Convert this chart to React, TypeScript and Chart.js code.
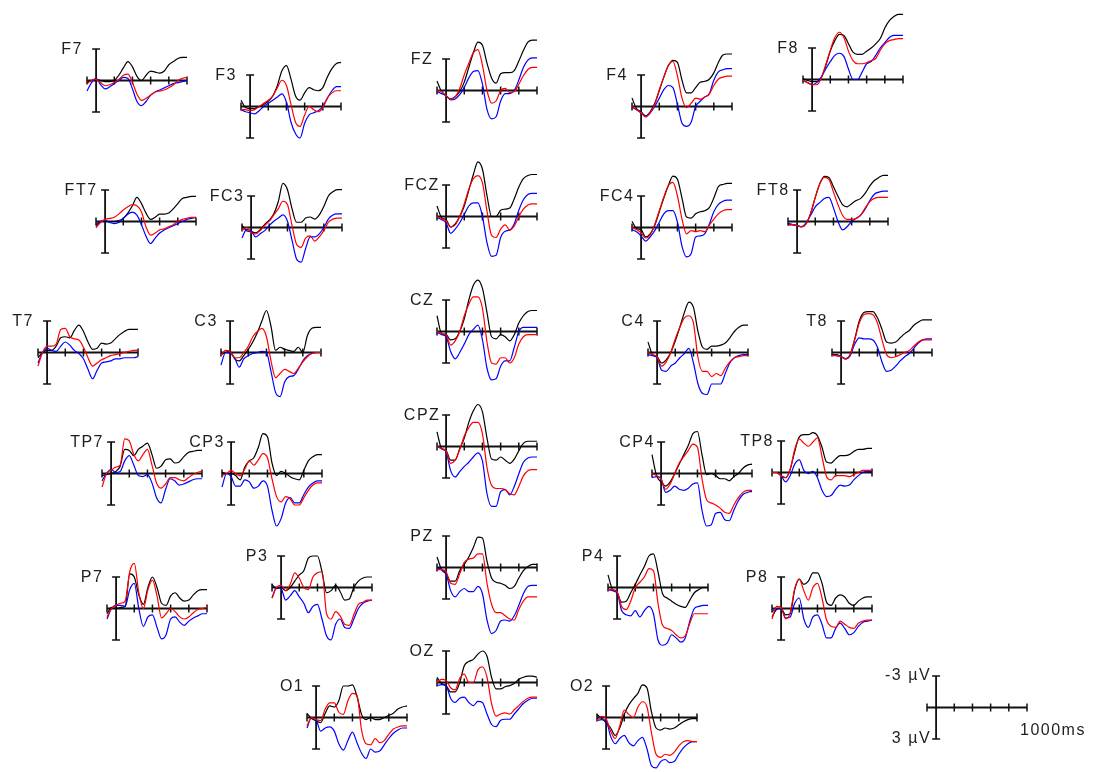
import React, { useEffect, useRef } from 'react';
import { Chart, registerables } from 'chart.js';

Chart.register(...registerables);

// ---- time base (ms) and axis ticks ----
const TIMES = [-100, -50, 0, 50, 100, 150, 200, 250, 300, 350, 400, 450, 500, 550, 600, 650, 700, 750, 800, 850, 900, 950, 1000];
const TICKS_MS = [200, 400, 600, 800];
const X_MIN = -100;
const X_MAX = 1000;
const Y_LIM = 3; // ±3 µV, negative up
const LEGEND_TOP = '-3 µV';
const LEGEND_BOTTOM = '3 µV';
const LEGEND_TIME = '1000ms';

// ---- amplitudes (µV) per electrode: _K black, _R red, _B blue ----
const F7_K = [0.2, 0, -0.1, 0, 0.1, 0.1, 0, -0.5, -1.2, -1.8, -1.3, -0.4, 0, -0.5, -0.9, -0.8, -0.7, -0.9, -1.5, -1.8, -2.1, -2.2, -2.2];
const F7_R = [0.3, 0, -0.1, 0.2, 0.5, 0.4, 0.2, -0.1, -0.5, -0.6, 0.2, 1.3, 1.9, 1.7, 1.4, 1.1, 1.0, 0.9, 0.7, 0.4, 0.0, -0.2, -0.3];
const F7_B = [1.0, 0.2, -0.2, 0.4, 0.8, 0.6, 0.3, 0, -0.3, -0.2, 0.8, 2.0, 2.4, 2.0, 1.4, 1.1, 0.9, 0.7, 0.5, 0.3, 0.2, 0.1, 0.0];

const F3_K = [-0.6, 0.1, 0.2, 0.2, 0, -0.2, -0.5, -1.0, -2.0, -3.4, -3.9, -2.6, -1.0, -0.6, -1.3, -1.8, -1.6, -1.5, -1.8, -2.8, -3.6, -4.1, -4.2];
const F3_R = [0.3, 0.3, 0.4, 0.3, 0, -0.3, -0.6, -1.0, -1.8, -2.5, -2.0, -0.2, 1.5, 1.9, 0.8, 0, 0.3, 0.5, 0.1, -0.8, -1.3, -1.5, -1.5];
const F3_B = [0.3, 0.5, 0.6, 0.7, 0.4, 0, -0.3, -0.6, -0.9, -1.2, -0.4, 1.5, 2.6, 3.0, 1.6, 0.8, 0.6, 0.4, 0, -0.8, -1.5, -1.9, -1.9];

const FZ_K = [-0.9, 0.1, 0.5, 0.8, 0.6, 0.1, -0.8, -2.2, -3.6, -4.6, -4.3, -2.6, -1.2, -0.7, -1.6, -1.7, -1.7, -1.9, -2.8, -3.8, -4.6, -4.8, -4.8];
const FZ_R = [0.0, 0.1, 0.5, 0.8, 0.6, -0.2, -1.5, -2.6, -3.6, -3.9, -2.4, 0.0, 1.2, 1.0, 0.0, -0.2, 0.2, 0.1, -0.6, -1.4, -2.0, -2.2, -2.2];
const FZ_B = [0.1, 0.3, 0.5, 0.9, 0.8, 0.4, -0.3, -1.2, -1.8, -1.9, -0.6, 1.8, 2.7, 2.5, 1.0, 0.3, 0.3, 0.0, -1.0, -2.2, -2.9, -3.1, -3.1];

const F4_K = [-0.8, 0.2, 0.5, 0.9, 0.5, -0.3, -1.5, -2.8, -3.9, -4.4, -4.2, -2.5, -1.3, -1.3, -1.8, -2.3, -2.4, -2.6, -3.2, -4.2, -4.9, -5.0, -5.0];
const F4_R = [0.0, 0.3, 0.6, 1.0, 0.6, -0.2, -1.6, -2.8, -3.9, -4.3, -2.9, -0.8, 0.1, -0.3, -0.8, -0.7, -0.9, -1.2, -2.0, -2.6, -2.8, -2.9, -2.9];
const F4_B = [0.1, 0.3, 0.6, 0.9, 0.6, 0.0, -0.8, -1.6, -2.0, -1.8, -0.2, 1.6, 1.9, 1.5, 0.0, -0.5, -0.9, -1.2, -2.5, -3.3, -3.5, -3.6, -3.6];

const F8_K = [-0.1, 0.1, 0.2, 0.2, -0.2, -1.3, -2.7, -3.7, -4.3, -4.2, -3.4, -2.6, -2.4, -2.4, -2.7, -3.0, -3.4, -3.9, -4.9, -5.6, -6.0, -6.2, -6.2];
const F8_R = [0.1, 0.3, 0.5, 0.5, -0.1, -1.4, -2.8, -4.0, -4.5, -4.0, -2.7, -1.8, -1.5, -1.5, -1.6, -1.8, -2.0, -2.8, -3.4, -3.7, -3.8, -3.9, -3.9];
const F8_B = [0.1, 0.3, 0.5, 0.3, -0.2, -1.0, -1.7, -2.3, -2.5, -2.2, -1.0, 0.0, 0.0, -0.7, -1.5, -1.7, -2.3, -3.0, -3.5, -4.0, -4.2, -4.2, -4.2];

const FT7_K = [0.3, 0.0, 0.0, 0.0, 0.0, -0.1, -0.3, -0.8, -1.5, -2.3, -1.7, -0.8, -0.2, -0.4, -0.7, -0.7, -0.8, -1.2, -1.7, -2.2, -2.3, -2.4, -2.4];
const FT7_R = [0.6, 0.1, -0.2, -0.3, -0.4, -0.7, -1.1, -1.4, -1.6, -1.5, -0.9, 0.5, 1.3, 1.1, 0.8, 0.7, 0.5, 0.3, 0.0, -0.2, -0.3, -0.4, -0.4];
const FT7_B = [0.5, 0.0, -0.1, 0.1, 0.2, 0.1, -0.3, -0.7, -0.9, -0.6, 0.3, 1.4, 2.1, 1.6, 1.1, 0.8, 0.6, 0.4, 0.2, 0.0, -0.2, -0.3, -0.4];

const FC3_K = [-0.2, 0.3, 0.4, 0.5, 0.2, -0.3, -0.7, -1.3, -2.5, -4.2, -3.6, -1.8, -0.5, -0.5, -0.9, -1.0, -0.8, -1.2, -2.0, -3.0, -3.4, -3.6, -3.6];
const FC3_R = [0.3, 0.0, 0.5, 0.6, 0.3, -0.2, -0.6, -1.2, -1.8, -2.5, -2.2, -0.2, 1.6, 1.9, 1.0, 0.8, 1.3, 0.9, 0.3, -0.5, -0.8, -0.9, -0.9];
const FC3_B = [1.0, 0.2, 0.3, 0.9, 0.6, 0.3, -0.2, -0.6, -0.9, -1.2, -0.6, 1.2, 3.0, 3.3, 2.0, 0.9, 0.9, 0.6, 0.0, -0.8, -1.2, -1.3, -1.3];

const FCZ_K = [-1.0, 0.1, 0.3, 1.0, 0.7, 0.0, -1.0, -2.5, -4.0, -5.2, -4.5, -2.0, 0.0, 0.0, -0.6, -0.7, -0.8, -1.7, -2.8, -3.6, -3.9, -4.0, -4.0];
const FCZ_R = [0.0, 0.2, 0.4, 1.0, 0.8, 0.0, -1.2, -2.6, -3.6, -3.9, -3.2, -0.5, 1.8, 2.0, 1.2, 0.8, 1.3, 0.9, 0.0, -0.7, -1.1, -1.2, -1.2];
const FCZ_B = [0.1, 0.3, 0.6, 1.6, 1.2, 0.6, -0.2, -1.0, -1.3, -1.3, 0.0, 2.5, 3.8, 3.7, 2.0, 1.4, 1.3, 0.7, -0.6, -1.6, -2.1, -2.2, -2.2];

const FC4_K = [-0.6, 0.1, 0.2, 0.9, 0.6, -0.2, -1.5, -2.8, -4.0, -4.9, -4.6, -2.8, -1.0, -0.9, -1.3, -1.5, -1.6, -1.9, -2.8, -3.9, -4.1, -4.2, -4.2];
const FC4_R = [0.0, 0.2, 0.5, 1.0, 0.7, -0.3, -1.6, -2.9, -4.0, -4.3, -3.0, -0.8, 0.6, 0.3, 0.4, 0.3, 0.4, -0.2, -0.8, -1.3, -1.6, -1.7, -1.7];
const FC4_B = [0.2, 0.4, 0.8, 1.3, 0.9, 0.3, -0.5, -1.3, -1.6, -1.6, -0.5, 1.8, 2.8, 2.5, 0.9, 0.8, 0.6, -0.3, -1.5, -2.2, -2.5, -2.6, -2.6];

const FT8_K = [0.2, 0.3, 0.4, 0.5, 0.2, -0.8, -2.3, -3.6, -4.3, -4.2, -3.3, -2.4, -1.6, -1.4, -1.7, -2.0, -2.2, -2.7, -3.4, -3.9, -4.2, -4.4, -4.4];
const FT8_R = [0.4, 0.3, 0.4, 0.5, 0.2, -0.8, -2.3, -3.6, -4.2, -4.0, -2.8, -1.6, -0.6, -0.2, -0.2, -0.3, -0.6, -1.3, -1.9, -2.2, -2.3, -2.3, -2.3];
const FT8_B = [0.2, 0.3, 0.4, 0.5, 0.1, -0.6, -1.4, -1.8, -2.2, -2.3, -1.3, 0.0, 0.8, 0.5, 0.0, -0.3, -0.6, -1.2, -2.0, -2.6, -2.8, -2.9, -2.9];

const T7_K = [0.5, 0.0, -0.2, -0.2, -0.6, -1.4, -1.5, -1.4, -2.1, -2.6, -2.0, -1.0, -0.3, -0.4, -0.9, -0.8, -0.9, -1.3, -1.7, -2.0, -2.2, -2.2, -2.2];
const T7_R = [1.3, 0.0, -0.6, -0.6, -0.8, -2.2, -2.3, -1.5, -1.3, -1.2, -0.5, 0.5, 1.3, 1.0, 0.7, 0.5, 0.3, 0.2, 0.1, 0.0, -0.1, -0.2, -0.2];
const T7_B = [1.0, 0.0, -0.4, -0.2, -0.1, -0.6, -1.0, -0.7, -0.2, 0.1, 0.6, 1.6, 2.5, 1.7, 1.0, 0.9, 0.8, 0.6, 0.6, 0.5, 0.5, 0.5, 0.4];

const C3_K = [0.2, 0.0, -0.1, 0.6, 0.8, 0.3, -0.3, -1.0, -1.9, -3.0, -4.0, -2.5, -0.2, -0.5, -0.3, -0.2, -0.1, -0.5, 0.0, -1.6, -2.3, -2.4, -2.4];
const C3_R = [0.3, -0.2, -0.1, 0.5, 0.5, 0.0, -0.6, -1.5, -2.0, -2.3, -1.5, 0.8, 2.4, 2.0, 1.6, 1.8, 2.0, 1.5, 0.9, 0.4, 0.1, 0.0, 0.0];
const C3_B = [1.2, 0.0, 0.1, 0.5, 1.4, 0.6, 0.3, 0.1, 0.0, -0.1, 0.0, 1.8, 3.8, 4.2, 2.8, 2.3, 2.2, 1.6, 0.8, 0.3, 0.1, 0.0, 0.0];

const CZ_K = [-1.5, 0.2, 0.3, 0.8, 0.7, 0.0, -1.2, -3.0, -4.4, -4.9, -4.1, -1.8, 0.5, 0.7, 0.3, 0.5, 0.9, 0.3, -0.8, -1.5, -1.9, -2.0, -2.0];
const CZ_R = [0.0, 0.2, 0.3, 1.3, 0.9, 0.0, -1.5, -2.6, -3.3, -3.3, -2.2, 1.0, 3.0, 3.1, 2.5, 2.5, 3.0, 2.5, 1.2, 0.5, 0.3, 0.3, 0.3];
const CZ_B = [0.1, 0.3, 0.5, 1.9, 2.6, 2.0, 1.2, 0.3, -0.2, -0.6, 0.8, 3.5, 4.6, 4.5, 3.3, 2.8, 2.8, 1.5, 0.0, -0.4, -0.4, -0.4, -0.4];

const C4_K = [-1.0, 0.2, 0.4, 1.0, 0.7, 0.0, -1.1, -2.4, -3.8, -4.8, -4.3, -2.0, -0.5, -0.3, -0.6, -0.6, -0.7, -0.9, -1.4, -2.0, -2.4, -2.6, -2.6];
const C4_R = [0.0, 0.2, 0.4, 1.3, 0.9, 0.0, -1.3, -2.4, -3.3, -3.5, -2.8, 0.5, 1.8, 1.8, 2.3, 2.0, 2.2, 1.5, 0.9, 0.5, 0.4, 0.3, 0.3];
const C4_B = [0.2, 0.3, 0.5, 1.7, 1.8, 1.3, 1.0, 0.5, 0.1, -0.4, 1.0, 3.0, 3.9, 4.0, 3.0, 3.0, 3.0, 2.0, 1.0, 0.5, 0.3, 0.2, 0.2];

const T8_K = [0.2, 0.2, 0.4, 0.6, 0.2, -1.3, -3.0, -3.8, -3.9, -3.9, -3.3, -2.2, -1.0, -0.9, -1.0, -1.4, -1.8, -2.1, -2.6, -2.9, -3.1, -3.1, -3.1];
const T8_R = [0.3, 0.3, 0.4, 0.6, 0.2, -1.2, -2.8, -3.6, -3.7, -3.6, -2.8, -1.2, 0.2, 0.5, 0.4, 0.2, 0.0, -0.2, -0.6, -1.0, -1.2, -1.2, -1.2];
const T8_B = [0.2, 0.3, 0.4, 0.6, 0.3, -0.8, -1.4, -1.3, -1.3, -1.2, -0.5, 0.9, 1.8, 1.7, 1.3, 0.8, 0.4, 0.1, -0.4, -0.9, -1.2, -1.3, -1.3];

const TP7_K = [0.2, 0.1, 0.0, -0.2, -0.7, -2.3, -2.2, -1.7, -2.3, -2.6, -2.9, -1.8, -0.5, -0.7, -1.3, -1.4, -1.0, -1.1, -1.6, -2.0, -2.1, -2.2, -2.2];
const TP7_R = [1.3, 0.0, -0.3, -0.6, -0.8, -3.3, -3.1, -1.8, -1.2, -1.8, -2.3, -0.8, 0.9, 1.4, 1.0, 0.4, 0.4, 0.6, 0.7, 0.4, 0.1, -0.1, -0.2];
const TP7_B = [0.7, 0.0, -0.4, -0.1, -0.2, -1.2, -1.7, -0.8, 0.2, 0.3, 0.1, 0.9, 2.3, 2.8, 1.5, 0.5, 0.7, 1.1, 1.0, 0.8, 0.6, 0.5, 0.5];

const CP3_K = [-0.1, 0.0, 0.0, 0.2, 0.6, -0.6, -1.2, -1.5, -2.5, -3.8, -3.5, -1.0, 0.2, -0.2, 0.0, 0.3, 0.5, 0.6, -0.3, -1.2, -1.6, -1.8, -1.8];
const CP3_R = [0.2, 0.0, -0.3, 0.0, 0.2, -0.4, -1.2, -0.8, -1.3, -1.9, -1.5, 0.5, 2.2, 2.7, 2.2, 2.4, 3.0, 3.0, 2.3, 1.6, 1.1, 0.9, 0.9];
const CP3_B = [1.3, 0.0, 0.3, 1.2, 1.2, 0.6, 0.8, 1.4, 1.2, 0.7, 1.2, 3.5, 5.0, 4.3, 2.8, 2.3, 2.8, 2.8, 2.0, 1.3, 0.9, 0.7, 0.7];

const CPZ_K = [-1.4, 0.2, 0.4, 1.3, 1.3, 0.2, -0.8, -2.3, -3.4, -4.0, -3.3, -0.8, 1.2, 1.3, 1.0, 1.3, 1.6, 1.2, 0.4, -0.3, -0.5, -0.5, -0.5];
const CPZ_R = [0.0, 0.2, 0.4, 1.6, 1.3, 0.3, -1.0, -1.8, -2.3, -2.3, -1.2, 2.0, 3.7, 4.0, 4.0, 4.1, 4.5, 4.6, 3.8, 2.8, 2.3, 2.2, 2.2];
const CPZ_B = [0.0, 0.2, 0.5, 2.3, 2.9, 2.4, 1.9, 1.5, 1.0, 0.6, 1.4, 4.5, 5.7, 5.7, 4.3, 4.1, 4.6, 3.8, 2.6, 1.5, 1.1, 1.0, 1.0];

const CP4_K = [-1.8, 0.2, 0.8, 1.2, 0.8, 0.0, -0.9, -1.8, -2.7, -3.8, -4.0, -1.8, 0.1, 0.0, 0.2, 0.5, 0.5, 0.7, 0.3, 0.0, -0.5, -0.8, -0.9];
const CP4_R = [0.0, 0.2, 0.5, 1.5, 1.0, 0.0, -1.0, -1.6, -2.2, -2.8, -2.5, 0.5, 2.5, 2.8, 3.0, 3.3, 3.7, 3.8, 3.0, 2.3, 1.8, 1.6, 1.6];
const CP4_B = [0.4, 0.3, 0.5, 1.8, 1.6, 1.2, 1.5, 1.6, 1.4, 1.0, 0.9, 3.5, 5.0, 4.9, 3.8, 3.7, 4.4, 4.5, 3.5, 2.6, 2.0, 1.8, 1.7];

const TP8_K = [0.0, 0.0, 0.3, 0.5, -0.3, -2.0, -3.4, -3.6, -3.6, -3.8, -3.5, -2.4, -1.0, -0.9, -1.3, -1.6, -1.6, -1.7, -2.0, -2.2, -2.2, -2.3, -2.3];
const TP8_R = [0.0, 0.0, 0.3, 0.5, -0.3, -2.2, -3.2, -2.8, -2.5, -2.9, -3.3, -1.5, 0.4, 0.7, 0.3, 0.3, 0.3, 0.4, 0.2, 0.0, -0.2, -0.2, -0.2];
const TP8_B = [0.0, 0.0, 0.3, 0.9, 0.3, -0.8, -1.2, -0.2, 0.1, -0.1, 0.5, 1.7, 2.3, 2.2, 1.6, 1.2, 1.3, 1.2, 0.7, 0.3, 0.0, -0.1, -0.1];

const P7_K = [0.5, -0.1, 0.0, -0.1, -0.2, -3.3, -3.0, -1.3, -0.4, -2.0, -3.0, -2.0, -0.5, -0.3, -1.2, -1.5, -1.0, -0.7, -0.8, -1.3, -1.7, -1.8, -1.8];
const P7_R = [0.8, 0.0, -0.3, -0.5, -0.7, -3.5, -4.3, -1.5, 0.0, -1.8, -2.7, -1.2, 0.9, 0.5, 0.0, 0.3, 0.8, 1.0, 0.8, 0.4, 0.1, 0.0, -0.1];
const P7_B = [1.0, 0.0, -0.3, -0.3, -0.2, -1.8, -2.4, 0.0, 1.7, 0.8, 0.6, 1.8, 2.9, 2.5, 1.0, 0.8, 1.3, 1.6, 1.2, 0.9, 0.7, 0.5, 0.5];

const P3_K = [-0.3, 0.1, 0.0, 0.3, 0.0, -0.6, -1.2, -1.6, -2.8, -3.0, -3.0, -1.5, 0.5, 0.3, -0.2, 0.4, 1.2, 1.1, 0.0, -0.6, -0.9, -1.0, -1.0];
const P3_R = [1.0, 0.0, -0.2, 0.3, -0.3, -1.4, -0.9, 0.0, 0.2, -1.0, -1.4, -1.5, 2.5, 3.0, 2.3, 2.7, 3.5, 3.6, 2.6, 1.6, 1.4, 1.2, 1.2];
const P3_B = [1.0, 0.0, 0.1, 1.2, 0.8, 0.3, 0.9, 1.5, 2.4, 1.8, 1.6, 3.0, 4.6, 5.0, 3.5, 3.0, 3.8, 3.9, 3.0, 2.0, 1.5, 1.3, 1.2];

const PZ_K = [-1.0, 0.2, 0.6, 1.3, 1.3, 0.3, -0.3, -1.0, -1.9, -2.9, -2.8, -0.6, 1.0, 1.4, 1.5, 1.7, 2.0, 1.8, 1.0, 0.3, -0.1, -0.3, -0.3];
const PZ_R = [0.2, 0.2, 0.4, 1.5, 1.6, 0.6, -0.5, -0.8, -0.9, -1.3, -1.3, 1.5, 3.5, 4.3, 4.3, 4.6, 4.9, 5.0, 4.0, 3.2, 2.8, 2.8, 2.8];
const PZ_B = [0.0, 0.2, 0.6, 2.2, 2.8, 2.3, 2.0, 2.3, 2.3, 1.8, 2.5, 5.0, 6.3, 6.0, 5.1, 5.0, 5.1, 4.6, 3.6, 2.5, 1.8, 1.7, 1.7];

const P4_K = [-1.2, 0.2, 0.5, 1.4, 1.3, 0.5, -0.3, -1.2, -2.0, -3.0, -3.2, -1.5, 0.6, 1.0, 1.3, 1.6, 1.8, 1.9, 1.2, 0.5, 0.2, 0.0, 0.0];
const P4_R = [0.2, 0.2, 0.4, 1.8, 2.1, 1.3, 0.0, -0.5, -1.0, -1.8, -1.6, 1.5, 3.6, 3.9, 4.1, 4.5, 4.8, 4.6, 3.4, 2.5, 2.5, 2.5, 2.5];
const P4_B = [0.2, 0.3, 0.5, 2.2, 2.6, 2.7, 2.2, 2.8, 2.2, 1.8, 2.5, 5.0, 5.5, 5.3, 4.5, 4.8, 5.2, 4.8, 3.2, 2.0, 1.8, 1.7, 1.7];

const P8_K = [0.8, 0.1, 0.0, 0.6, 0.5, -1.8, -2.8, -2.3, -2.6, -3.4, -3.4, -2.4, -0.6, -0.3, -1.0, -1.3, -1.1, -0.5, -0.3, -0.7, -1.0, -1.1, -1.1];
const P8_R = [1.0, -0.2, -0.1, 1.0, 0.4, -1.9, -2.8, -1.7, -0.8, -2.0, -2.4, -1.0, 1.1, 1.7, 1.8, 1.2, 1.5, 1.8, 1.9, 1.4, 1.2, 1.1, 1.1];
const P8_B = [0.3, 0.0, 0.0, 0.9, 0.8, -0.5, -1.0, 1.0, 1.8, 0.8, 0.6, 1.5, 2.8, 2.8, 1.9, 1.4, 1.9, 2.5, 2.3, 1.7, 1.3, 1.2, 1.1];

const O1_K = [-0.4, 0.1, 0.3, 0.5, -0.4, -1.1, -1.0, -1.6, -3.0, -3.0, -3.1, -2.0, -0.3, 0.2, 0.0, 0.2, 0.2, 0.0, -0.2, -0.4, -0.8, -1.0, -1.1];
const O1_R = [0.8, 0.0, 0.2, 0.3, -0.8, -1.4, -1.4, -0.5, -0.3, -1.6, -2.3, -2.1, 1.2, 2.5, 2.6, 2.0, 2.4, 2.2, 1.6, 1.1, 0.9, 0.8, 0.8];
const O1_B = [1.0, 0.0, 0.2, 1.3, 1.0, 0.9, 1.3, 2.5, 3.1, 2.2, 1.4, 2.4, 3.4, 3.9, 3.0, 3.3, 3.2, 2.6, 2.0, 1.5, 1.2, 1.0, 1.0];

const OZ_K = [-0.5, 0.1, 0.3, 0.9, 0.9, 0.0, -1.6, -2.0, -2.2, -2.7, -3.0, -2.5, -0.5, 0.6, 0.6, 0.4, 0.3, 0.1, -0.3, -0.5, -0.6, -0.6, -0.5];
const OZ_R = [0.0, -0.3, -0.2, 0.5, 0.7, -0.4, -0.8, 0.0, 0.0, -1.2, -1.5, -0.5, 2.0, 3.2, 3.0, 2.9, 3.0, 2.6, 2.2, 1.8, 1.5, 1.4, 1.4];
const OZ_B = [0.3, 0.2, 0.3, 1.5, 1.9, 1.5, 1.4, 1.9, 2.2, 1.8, 1.9, 3.0, 4.0, 4.2, 3.6, 3.5, 3.5, 3.0, 2.5, 2.0, 1.7, 1.5, 1.5];

const O2_K = [-0.3, 0.1, 0.5, 1.0, 1.7, 1.0, -0.3, -1.2, -1.8, -2.3, -3.1, -2.8, -0.5, 1.0, 1.2, 1.0, 1.1, 1.0, 0.7, 0.4, 0.2, 0.1, 0.1];
const O2_R = [0.3, -0.1, 0.1, 1.3, 2.0, 0.8, -0.7, -0.3, 0.0, -1.0, -1.5, -1.0, 1.5, 3.5, 3.8, 3.5, 3.6, 3.3, 2.7, 2.3, 2.2, 2.3, 2.3];
const O2_B = [0.3, 0.2, 0.3, 1.8, 2.5, 2.0, 1.7, 2.4, 2.7, 2.2, 1.9, 3.0, 4.6, 4.8, 4.2, 4.0, 4.3, 4.2, 3.5, 2.9, 2.5, 2.3, 2.3];

const ELECTRODES = [
  { name: 'F7', k: F7_K, r: F7_R, b: F7_B },
  { name: 'F3', k: F3_K, r: F3_R, b: F3_B },
  { name: 'FZ', k: FZ_K, r: FZ_R, b: FZ_B },
  { name: 'F4', k: F4_K, r: F4_R, b: F4_B },
  { name: 'F8', k: F8_K, r: F8_R, b: F8_B },
  { name: 'FT7', k: FT7_K, r: FT7_R, b: FT7_B },
  { name: 'FC3', k: FC3_K, r: FC3_R, b: FC3_B },
  { name: 'FCZ', k: FCZ_K, r: FCZ_R, b: FCZ_B },
  { name: 'FC4', k: FC4_K, r: FC4_R, b: FC4_B },
  { name: 'FT8', k: FT8_K, r: FT8_R, b: FT8_B },
  { name: 'T7', k: T7_K, r: T7_R, b: T7_B },
  { name: 'C3', k: C3_K, r: C3_R, b: C3_B },
  { name: 'CZ', k: CZ_K, r: CZ_R, b: CZ_B },
  { name: 'C4', k: C4_K, r: C4_R, b: C4_B },
  { name: 'T8', k: T8_K, r: T8_R, b: T8_B },
  { name: 'TP7', k: TP7_K, r: TP7_R, b: TP7_B },
  { name: 'CP3', k: CP3_K, r: CP3_R, b: CP3_B },
  { name: 'CPZ', k: CPZ_K, r: CPZ_R, b: CPZ_B },
  { name: 'CP4', k: CP4_K, r: CP4_R, b: CP4_B },
  { name: 'TP8', k: TP8_K, r: TP8_R, b: TP8_B },
  { name: 'P7', k: P7_K, r: P7_R, b: P7_B },
  { name: 'P3', k: P3_K, r: P3_R, b: P3_B },
  { name: 'PZ', k: PZ_K, r: PZ_R, b: PZ_B },
  { name: 'P4', k: P4_K, r: P4_R, b: P4_B },
  { name: 'P8', k: P8_K, r: P8_R, b: P8_B },
  { name: 'O1', k: O1_K, r: O1_R, b: O1_B },
  { name: 'OZ', k: OZ_K, r: OZ_R, b: OZ_B },
  { name: 'O2', k: O2_K, r: O2_R, b: O2_B },
];

// ---- layout: page position of each plot's origin (0 ms, 0 µV) ----
const POSITIONS: Record<string, [number, number]> = {
  F7: [96, 80], F3: [250, 106], FZ: [446, 90], F4: [641, 106], F8: [812, 79],
  FT7: [105, 221], FC3: [251, 227], FCZ: [446, 216], FC4: [641, 227], FT8: [797, 221],
  T7: [47, 352], C3: [230, 352], CZ: [446, 331], C4: [657, 352], T8: [841, 352],
  TP7: [111, 473], CP3: [231, 473], CPZ: [446, 446], CP4: [661, 473], TP8: [781, 472],
  P7: [116, 608], P3: [281, 587], PZ: [446, 567], P4: [617, 587], P8: [781, 608],
  O1: [316, 717], OZ: [446, 682], O2: [606, 717],
  LEGEND: [936, 707],
};

// ---- styles ----
const PLOT_W = 100;
const PLOT_H = 63;
const PAD_L = 60;
const PAD_R = 20;
const PAD_R_LEGEND = 80;
const PAD_T = 50;
const PAD_B = 50;
const CAP = 4;
const AXIS_COLOR = '#111111';
const TEXT_COLOR = '#1e1e1e';
const FONT = '16px "Liberation Sans", Arial, sans-serif';
const LETTER_SPACING = '1.5px';
const COLOR_K = '#000000';
const COLOR_R = '#ff0000';
const COLOR_B = '#0000ff';

function makeAxesPlugin(label: string, legend: boolean) {
  return {
    id: 'eegAxes',
    beforeDatasetsDraw(chart: any) {
      const { ctx } = chart;
      const xs = chart.scales.x;
      const ys = chart.scales.y;
      const x0 = xs.getPixelForValue(0);
      const xL = xs.getPixelForValue(X_MIN);
      const xR = xs.getPixelForValue(X_MAX);
      const y0 = ys.getPixelForValue(0);
      const yTop = ys.getPixelForValue(-Y_LIM);
      const yBot = ys.getPixelForValue(Y_LIM);
      ctx.save();
      ctx.strokeStyle = AXIS_COLOR;
      ctx.lineWidth = 1.8;
      ctx.beginPath();
      ctx.moveTo(xL, y0);
      ctx.lineTo(xR, y0);
      ctx.moveTo(x0, yTop);
      ctx.lineTo(x0, yBot);
      ctx.stroke();
      ctx.lineWidth = 1.5;
      ctx.beginPath();
      ctx.moveTo(x0 - CAP, yTop);
      ctx.lineTo(x0 + CAP, yTop);
      ctx.moveTo(x0 - CAP, yBot);
      ctx.lineTo(x0 + CAP, yBot);
      [X_MIN, ...TICKS_MS, X_MAX].forEach((t) => {
        const x = xs.getPixelForValue(t);
        ctx.moveTo(x, y0 - CAP);
        ctx.lineTo(x, y0 + CAP);
      });
      ctx.stroke();
      ctx.fillStyle = TEXT_COLOR;
      ctx.font = FONT;
      (ctx as any).letterSpacing = LETTER_SPACING;
      ctx.textBaseline = 'middle';
      if (!legend) {
        ctx.textAlign = 'center';
        ctx.fillText(label, x0 - 24, yTop + 1);
      } else {
        ctx.textAlign = 'right';
        ctx.fillText(LEGEND_TOP, x0 - 5, yTop);
        ctx.fillText(LEGEND_BOTTOM, x0 - 5, yBot);
        ctx.textAlign = 'left';
        ctx.fillText(LEGEND_TIME, xR - 7, y0 + 23);
      }
      ctx.restore();
    },
  };
}

type PlotProps = {
  name: string;
  k?: number[];
  r?: number[];
  b?: number[];
  legend?: boolean;
};

function EegPlot({ name, k, r, b, legend }: PlotProps) {
  const ref = useRef<HTMLCanvasElement | null>(null);
  const padR = legend ? PAD_R_LEGEND : PAD_R;
  const w = PAD_L + PLOT_W + padR;
  const h = PAD_T + PLOT_H + PAD_B;
  const [vx, zy] = POSITIONS[legend ? 'LEGEND' : name];
  const originX = PAD_L + (PLOT_W * (0 - X_MIN)) / (X_MAX - X_MIN);
  const originY = PAD_T + PLOT_H / 2;

  useEffect(() => {
    if (!ref.current) return;
    const toPts = (vals: number[]) => TIMES.map((t, i) => ({ x: t, y: vals[i] }));
    const datasets: any[] = [];
    if (r && b && k) {
      datasets.push({ label: 'red', data: toPts(r), borderColor: COLOR_R });
      datasets.push({ label: 'blue', data: toPts(b), borderColor: COLOR_B });
      datasets.push({ label: 'black', data: toPts(k), borderColor: COLOR_K });
    }
    const chart = new Chart(ref.current, {
      type: 'line',
      data: { datasets },
      options: {
        animation: false,
        responsive: false,
        events: [],
        layout: { padding: { left: PAD_L, right: padR, top: PAD_T, bottom: PAD_B } },
        plugins: { legend: { display: false }, tooltip: { enabled: false }, title: { display: false } },
        scales: {
          x: { type: 'linear', min: X_MIN, max: X_MAX, display: false },
          y: { type: 'linear', min: -Y_LIM, max: Y_LIM, reverse: true, display: false },
        },
        datasets: { line: { clip: false } as any },
        elements: {
          point: { radius: 0 },
          line: { borderWidth: 1.2, tension: 0.4, cubicInterpolationMode: 'monotone', fill: false },
        },
      } as any,
      plugins: [makeAxesPlugin(name, !!legend)],
    });
    return () => chart.destroy();
  }, []);

  return (
    <canvas
      ref={ref}
      width={w}
      height={h}
      style={{ position: 'absolute', left: vx - originX, top: zy - originY, width: w, height: h }}
    />
  );
}

export default function App() {
  return (
    <div
      style={{
        position: 'absolute',
        left: 0,
        top: 0,
        width: 1095,
        height: 772,
        overflow: 'hidden',
        background: '#ffffff',
      }}
    >
      {ELECTRODES.map((e) => (
        <EegPlot key={e.name} name={e.name} k={e.k} r={e.r} b={e.b} />
      ))}
      <EegPlot name="legend" legend />
    </div>
  );
}
